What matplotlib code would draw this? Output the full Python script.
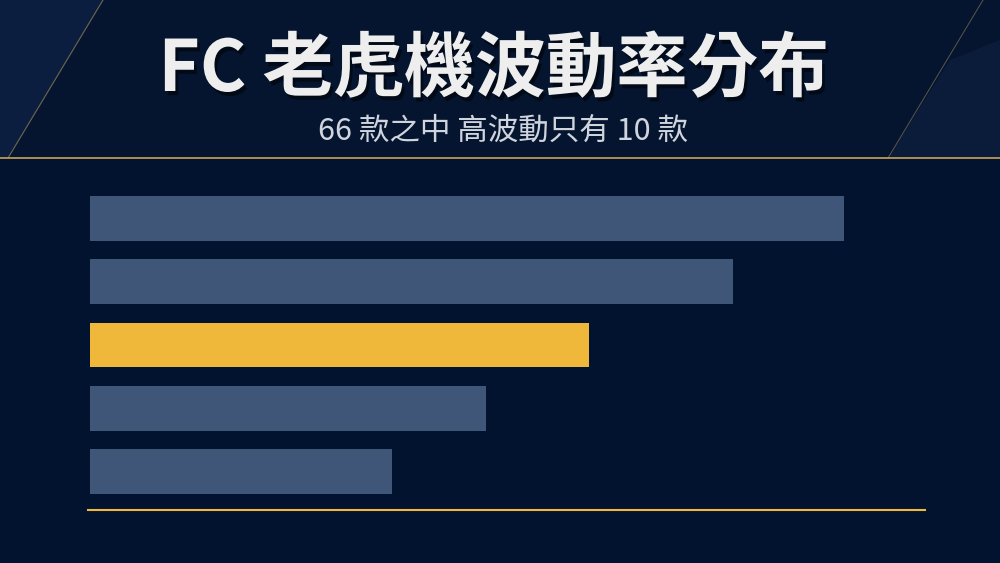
import matplotlib
matplotlib.use("Agg")
import matplotlib.pyplot as plt
import matplotlib.patheffects as pe
from matplotlib.patches import Polygon, Rectangle
import numpy as np

plt.rcParams['font.family'] = ['Noto Sans CJK TC', 'DejaVu Sans']

# ---- data ----
categories = ["1", "2", "3", "4", "5"]
values = [90.3, 77.0, 59.8, 47.4, 36.2]
highlight_index = 2
title = "FC 老虎機波動率分布"
subtitle = "66 款之中 高波動只有 10 款"

BG = "#02132f"
HEADER = "#051530"
BAR = "#3f5678"
GOLD = "#f0b83a"
LINE_GOLD = "#c9a45a"

fig = plt.figure(figsize=(10, 5.63), dpi=100)
fig.patch.set_facecolor(BG)

W, H = 1000, 563
def fx(x): return x / W
def fy(y): return 1 - y / H

# header band
fig.patches.append(Rectangle((0, fy(158)), 1, 158 / H, transform=fig.transFigure,
                             facecolor=HEADER, edgecolor='none', zorder=0))
# left lighter diagonal panel
fig.patches.append(Polygon([(fx(0), fy(0)), (fx(103), fy(0)), (fx(8), fy(158)), (fx(0), fy(158))],
                           closed=True, transform=fig.transFigure, facecolor="#0c1e3f",
                           edgecolor='none', zorder=0.5))
fig.lines.append(plt.Line2D([fx(103), fx(8)], [fy(0), fy(158)], transform=fig.transFigure,
                            color="#8a7a55", lw=0.8, alpha=0.8, zorder=0.6))
# right diagonal panels
fig.patches.append(Polygon([(fx(1000), fy(40)), (fx(1000), fy(158)), (fx(888), fy(158)), (fx(950), fy(60))],
                           closed=True, transform=fig.transFigure, facecolor="#0a1c3a",
                           edgecolor='none', zorder=0.5))
fig.lines.append(plt.Line2D([fx(983), fx(888)], [fy(0), fy(158)], transform=fig.transFigure,
                            color="#6f6650", lw=0.7, alpha=0.8, zorder=0.6))
# gold header rule
fig.lines.append(plt.Line2D([0, 1], [fy(158), fy(158)], transform=fig.transFigure,
                            color=LINE_GOLD, lw=1.2, zorder=1))

# titles
fig.text(fx(494), fy(70), title, ha='center', va='center', fontsize=51, fontweight='heavy',
         color="#eeeeee", zorder=3,
         path_effects=[pe.SimplePatchShadow(offset=(2, -3), shadow_rgbFace='black', alpha=0.5),
                       pe.Normal()])
fig.text(fx(503), fy(131), subtitle, ha='center', va='center', fontsize=22,
         color="#cfd4dd", zorder=3)

# bars
ax = fig.add_axes([fx(90), fy(510), (925 - 90) / W, (510 - 180) / H])
ax.set_facecolor('none')
y = np.arange(len(categories))
colors = [GOLD if i == highlight_index else BAR for i in range(len(categories))]
ax.barh(y, values, height=0.71, color=colors, edgecolor='none')
ax.set_xlim(0, 100)
ax.set_ylim(len(categories) - 1 + 0.609, -0.609)
for s in ['top', 'right', 'left']:
    ax.spines[s].set_visible(False)
ax.spines['bottom'].set_color(GOLD)
ax.spines['bottom'].set_linewidth(1.5)
ax.spines['bottom'].set_bounds(-0.25, 100)
ax.set_xticks([])
ax.set_yticks([])

fig.savefig("out.png", dpi=100, facecolor=fig.get_facecolor())
